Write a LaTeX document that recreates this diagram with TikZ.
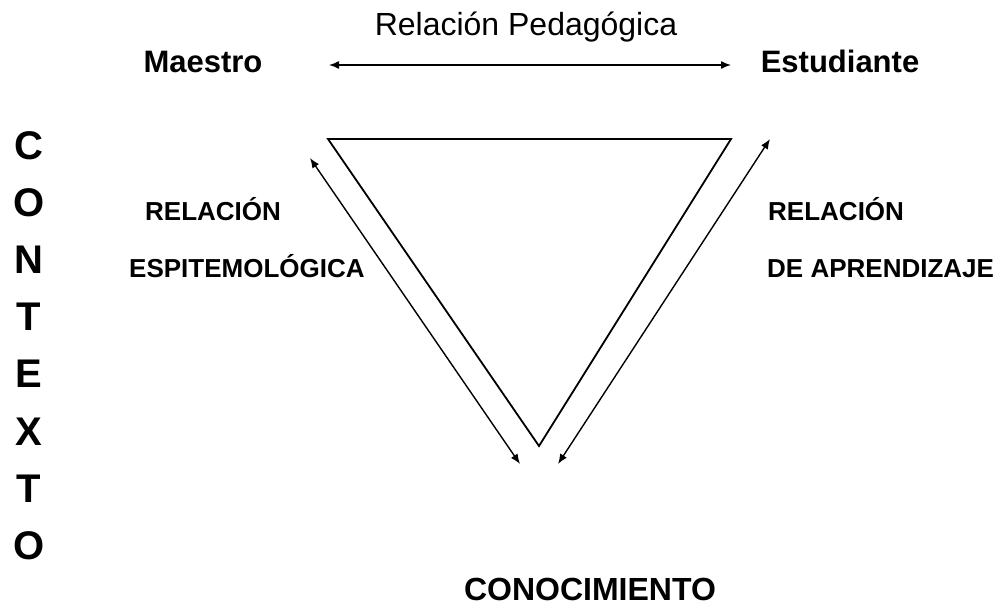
\documentclass[tikz,border=0pt]{standalone}
\usepackage{fontspec}
\setmainfont{Liberation Sans}
\usetikzlibrary{arrows.meta}
\begin{document}
\begin{tikzpicture}[x=1pt,y=-1pt,
  txt/.style={inner sep=0pt, anchor=base},
  head/.style={txt, font=\fontsize{31}{36}\selectfont\bfseries},
  ped/.style={txt, font=\fontsize{32}{38}\selectfont},
  small/.style={txt, anchor=base west, font=\fontsize{26}{30}\selectfont\bfseries},
  ctx/.style={txt, font=\fontsize{40}{48}\selectfont\bfseries},
  tri/.style={line width=1.8pt, line join=miter},
  rel/.style={line width=1.4pt, {Latex[length=10pt,width=8pt]}-{Latex[length=10pt,width=8pt]}}]
\path[use as bounding box] (0,0) rectangle (996,607);

% top labels
\node[ped] (ped) at (526,36) {Relación Pedagógica};
\node[head] (maestro) at (203,73) {Maestro};
\node[head] (estud) at (840,73) {Estudiante};
\coordinate (pl) at (329,65);
\coordinate (pr) at (731,65);
\draw[rel] (pl) -- (pr);

% triangle
\coordinate (tl) at (328,139);
\coordinate (tr) at (731,139);
\coordinate (tb) at (539,446);
\draw[tri] (tl) -- (tr) -- (tb) -- cycle;

% side arrows
\coordinate (la) at (310,158);
\coordinate (lb) at (520,464);
\coordinate (ra) at (770,139);
\coordinate (rb) at (558,464);
\draw[rel] (la) -- (lb);
\draw[rel] (ra) -- (rb);

% side labels
\node[small] (rl1) at (145,220) {RELACIÓN};
\node[small] (rl2) at (129,277) {ESPITEMOLÓGICA};
\node[small] (rr1) at (768,220) {RELACIÓN};
\node[small] (rr2) at (767,277) {DE APRENDIZAJE};

% bottom
\node[txt, font=\fontsize{32}{38}\selectfont\bfseries] (cono) at (590,600) {CONOCIMIENTO};

% CONTEXTO
\foreach \l [count=\i] in {C,O,N,T,E,X,T,O}
  \node[ctx] (ctx-\i) at (29,{159.3+57.15*(\i-1)}) {\l};
\end{tikzpicture}
\end{document}
